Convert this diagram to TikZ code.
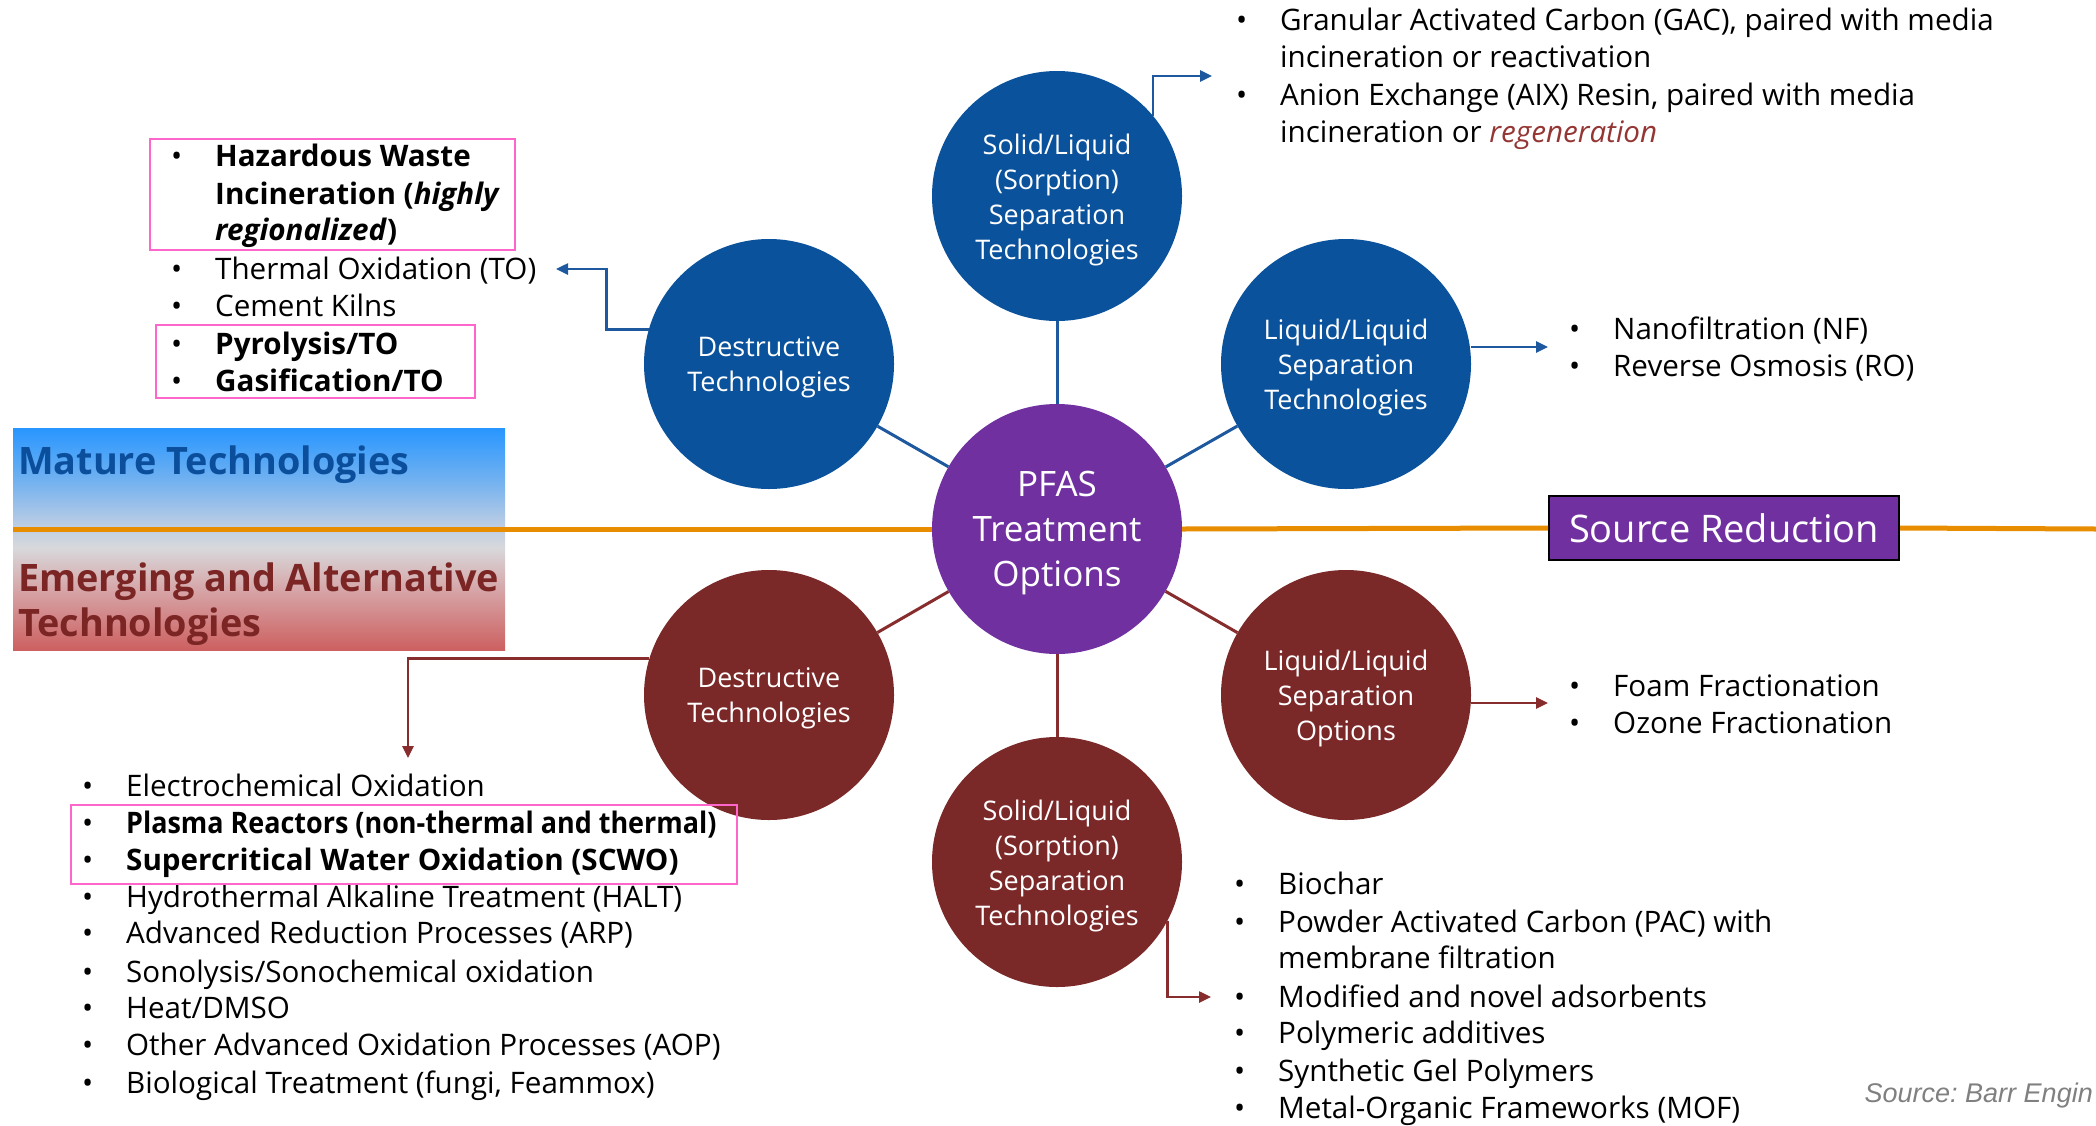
\documentclass[tikz,border=0pt]{standalone}
\usepackage{fontspec}
\setmainfont{Open Sans}
\newfontfamily\arialfont{Liberation Sans}
\usetikzlibrary{arrows.meta}
\frenchspacing
\definecolor{cblue}{RGB}{11,82,156}
\definecolor{cred}{RGB}{123,40,40}
\definecolor{cpurple}{RGB}{112,48,160}
\definecolor{corange}{RGB}{232,140,0}
\definecolor{cpink}{RGB}{255,102,204}
\definecolor{lblue}{RGB}{30,88,158}
\definecolor{lred}{RGB}{135,45,45}
\definecolor{mblue}{RGB}{11,79,156}
\definecolor{ered}{RGB}{123,37,37}
\definecolor{gtop}{RGB}{40,150,255}
\definecolor{gup}{RGB}{115,178,240}
\definecolor{glb}{RGB}{188,205,228}
\definecolor{gmid}{RGB}{216,216,219}
\definecolor{gpk}{RGB}{214,162,164}
\definecolor{gbot}{RGB}{205,96,96}
\definecolor{regen}{RGB}{148,54,52}
\pgfdeclareverticalshading{legendshade}{100bp}{color(0bp)=(gbot); color(25bp)=(gbot); color(38bp)=(gpk); color(48bp)=(gmid); color(53bp)=(glb); color(63bp)=(gup); color(75bp)=(gtop); color(100bp)=(gtop)}
\newcommand\bul{\makebox[44pt][l]{\textbullet}}
\newcommand\ind{\hspace*{44pt}}
\tikzset{
  circ/.style={circle, minimum size=250pt, inner sep=0pt},
  ctext/.style={inner sep=0pt, align=center, text=white, font=\fontsize{27}{35}\selectfont},
  bcirc/.style={circ, fill=cblue},
  rcirc/.style={circ, fill=cred},
  li/.style={anchor=base west, inner sep=0pt, font=\fontsize{29.6}{35}\selectfont, text=black},
  spokeb/.style={draw=lblue, line width=3pt},
  spoker/.style={draw=lred, line width=3pt},
  arrb/.style={draw=lblue, line width=2.5pt, -{Triangle[length=12pt,width=11pt]}},
  arrr/.style={draw=lred, line width=2.5pt, -{Triangle[length=12pt,width=11pt]}},
  pinkbox/.style={draw=cpink, line width=2.5pt},
  oline/.style={draw=corange, line width=5pt},
  legend/.style={anchor=base west, inner sep=0pt, font=\fontsize{37.8}{44}\selectfont\bfseries},
}
\begin{document}
\begin{tikzpicture}[x=1pt,y=-1pt]
\useasboundingbox (0,0) rectangle (2096,1125);
\fill[white] (0,0) rectangle (2096,1125);

% gradient legend box
\shade[shading=legendshade] (13,428) rectangle (505,650);

% orange divider
\coordinate (oL) at (13,529);
\coordinate (oR) at (2096,529);

% circles
\node[circ, fill=cpurple] (pf) at (1057,529) {};
\node[bcirc] (st) at (1057,196) {};
\node[bcirc] (db) at (769,364) {};
\node[bcirc] (lb) at (1346,364) {};
\node[rcirc] (dr) at (769,695) {};
\node[rcirc] (lr) at (1346,695) {};
\node[rcirc] (sr) at (1057,862) {};

\node[ctext, font=\fontsize{35}{45}\selectfont] (pft) at ([yshift=-4pt]pf.center) {PFAS\\Treatment\\Options};
\node[ctext] (stt) at ([yshift=-4pt]st.center) {Solid/Liquid\\(Sorption)\\Separation\\Technologies};
\node[ctext] (dbt) at ([yshift=-3pt]db.center) {Destructive\\Technologies};
\node[ctext] (lbt) at ([yshift=-3pt]lb.center) {Liquid/Liquid\\Separation\\Technologies};
\node[ctext] (drt) at ([yshift=-3pt]dr.center) {Destructive\\Technologies};
\node[ctext] (lrt) at ([yshift=-3pt]lr.center) {Liquid/Liquid\\Separation\\Options};
\node[ctext] (srt) at ([yshift=-4pt]sr.center) {Solid/Liquid\\(Sorption)\\Separation\\Technologies};

\node[draw=black, line width=2pt, fill=cpurple, text=white, minimum width=350pt, minimum height=64pt,
  inner sep=0pt, font=\fontsize{38}{44}\selectfont] (srbox) at (1724,528) {Source Reduction};

\draw[oline] (oL) -- (pf.west);
\draw[oline] (pf.east) -- (srbox.west);
\draw[oline] (srbox.east) -- (oR);

% spokes
\draw[spokeb] (pf) -- (st);
\draw[spokeb] (pf) -- (db);
\draw[spokeb] (pf) -- (lb);
\draw[spoker] (pf) -- (dr);
\draw[spoker] (pf) -- (lr);
\draw[spoker] (pf) -- (sr);

% legend texts
\node[legend, text=mblue] (mat) at (18,474) {Mature Technologies};
\node[legend, text=ered] (em1) at (18,591) {Emerging and Alternative};
\node[legend, text=ered] (em2) at (18,636) {Technologies};

% top-left list
\node[li] (tl1) at (171,166) {\bul\textbf{Hazardous Waste}};
\node[li] (tl2) at (171,204) {\ind\textbf{Incineration (\textit{highly}}};
\node[li] (tl3) at (171,240) {\ind\textbf{\textit{regionalized})}};
\node[li] (tl4) at (171,279) {\bul Thermal Oxidation (TO)};
\node[li] (tl5) at (171,316) {\bul Cement Kilns};
\node[li] (tl6) at (171,354) {\bul\textbf{Pyrolysis/TO}};
\node[li] (tl7) at (171,391) {\bul\textbf{Gasification/TO}};
\draw[pinkbox] (150,139) rectangle (515,250);
\draw[pinkbox] (156,325) rectangle (475,398);

% top-right list
\node[li] (tr1) at (1236,30) {\bul Granular Activated Carbon (GAC), paired with media};
\node[li] (tr2) at (1236,67) {\ind incineration or reactivation};
\node[li] (tr3) at (1236,105) {\bul Anion Exchange (AIX) Resin, paired with media};
\node[li] (tr4) at (1236,142) {\ind incineration or \textcolor{regen}{\textit{regeneration}}};

% right lists
\node[li] (rb1) at (1569,339) {\bul Nanofiltration (NF)};
\node[li] (rb2) at (1569,376) {\bul Reverse Osmosis (RO)};
\node[li] (rr1) at (1569,696) {\bul Foam Fractionation};
\node[li] (rr2) at (1569,733) {\bul Ozone Fractionation};

% bottom-left list
\node[li] (bl1) at (82,796) {\bul Electrochemical Oxidation};
\node[li] (bl2) at (82,833) {\bul\scalebox{0.91}[1]{\textbf{Plasma Reactors (non-thermal and thermal)}}};
\node[li] (bl3) at (82,870) {\bul\textbf{Supercritical Water Oxidation (SCWO)}};
\node[li] (bl4) at (82,907) {\bul Hydrothermal Alkaline Treatment (HALT)};
\node[li] (bl5) at (82,943) {\bul Advanced Reduction Processes (ARP)};
\node[li] (bl6) at (82,982) {\bul Sonolysis/Sonochemical oxidation};
\node[li] (bl7) at (82,1018) {\bul Heat/DMSO};
\node[li] (bl8) at (82,1055) {\bul Other Advanced Oxidation Processes (AOP)};
\node[li] (bl9) at (82,1093) {\bul Biological Treatment (fungi, Feammox)};
\draw[pinkbox] (71,805) rectangle (737,884);

% bottom-right list
\node[li] (br1) at (1234,894) {\bul Biochar};
\node[li] (br2) at (1234,932) {\bul Powder Activated Carbon (PAC) with};
\node[li] (br3) at (1234,968) {\ind membrane filtration};
\node[li] (br4) at (1234,1007) {\bul Modified and novel adsorbents};
\node[li] (br5) at (1234,1043) {\bul Polymeric additives};
\node[li] (br6) at (1234,1081) {\bul Synthetic Gel Polymers};
\node[li] (br7) at (1234,1118) {\bul Metal-Organic Frameworks (MOF)};

% source
\node[anchor=base east, inner sep=0pt, text=gray, font=\arialfont\itshape\fontsize{27}{30}\selectfont] (src) at (2093,1102) {Source: Barr Engin};

% arrows
\coordinate (eTR) at (1212,76);
\coordinate (eTL) at (556,269);
\coordinate (eRB) at (1548,347);
\coordinate (eBL) at (408,758);
\coordinate (eRR) at (1548,703);
\coordinate (eBR) at (1211,997);
\draw[arrb] (st.40) |- (eTR);
\draw[arrb] (db.164) -- ++(-42,0) |- (eTL);
\draw[arrb] (lb.east |- eRB) -- (eRB);
\draw[arrr] (dr.163) -| (eBL);
\draw[arrr] (lr.east |- eRR) -- (eRR);
\draw[arrr] (sr.-28) |- (eBR);
\end{tikzpicture}
\end{document}
